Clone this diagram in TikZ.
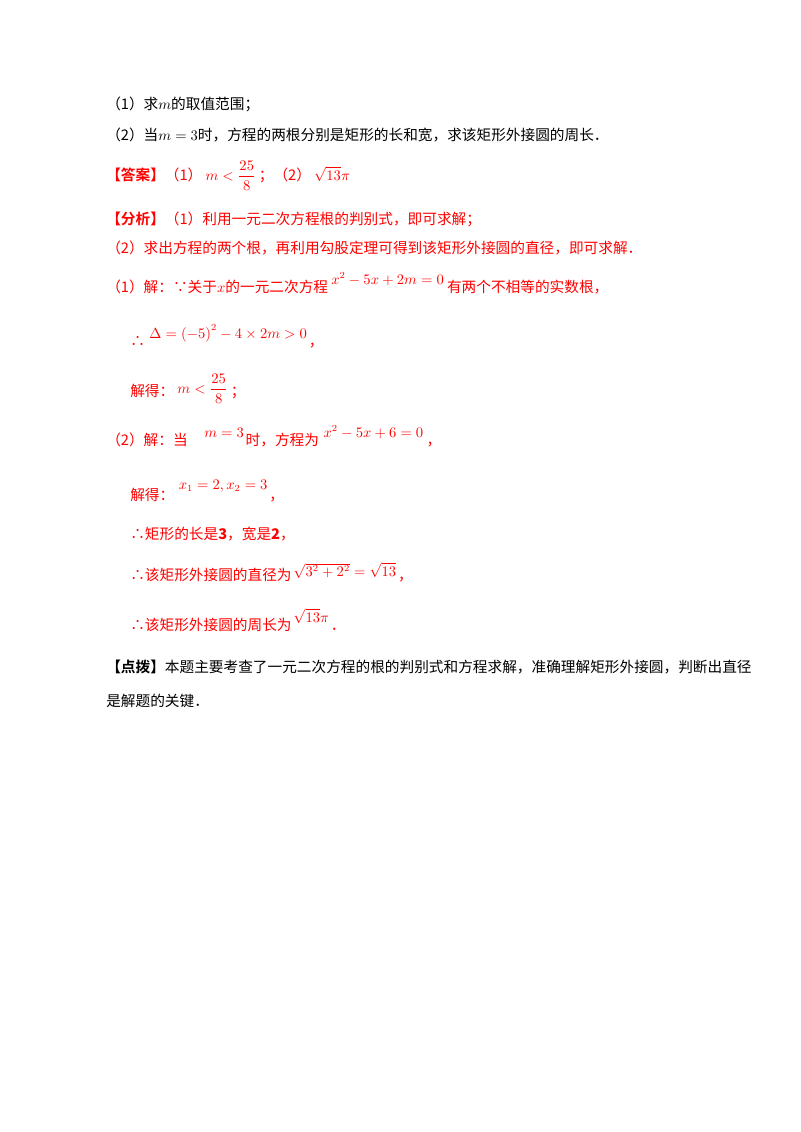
\documentclass[tikz,border=0pt]{standalone}
\usepackage{amsmath}
\usepackage{fontspec}
\newfontfamily\cjk{Noto Sans CJK SC}
\newfontfamily\cjkb{Noto Sans CJK SC Bold}
\definecolor{ansred}{RGB}{255,0,0}
\begin{document}
\begin{tikzpicture}[x=0.75pt,y=-0.75pt,
  t/.style={anchor=base west,inner sep=0pt,font=\cjk\fontsize{11pt}{13pt}\selectfont},
  r/.style={t,text=ansred},
  m/.style={anchor=base west,inner sep=0pt,font=\fontsize{10.5pt}{12pt}\selectfont},
  rm/.style={m,text=ansred}]
\useasboundingbox[fill=white] (0,0) rectangle (800,1132);
\node[t] (l1) at (106,109) {（1）求$m$的取值范围；};
\node[t] (l2) at (106,140) {（2）当$m=3$时，方程的两根分别是矩形的长和宽，求该矩形外接圆的周长．};
\node[r] (l3) at (106,180) {{\cjkb【答案】}（1）};
\node[rm] (l3a) at ([xshift=2pt]l3.base east) {$m<\dfrac{25}{8}$};
\node[r] (l3b) at ([xshift=2pt]l3a.base east) {；（2）};
\node[rm] (l3c) at ([xshift=2pt]l3b.base east) {$\sqrt{13}\pi$};
\node[r] (l4) at (106,224) {{\cjkb【分析】}（1）利用一元二次方程根的判别式，即可求解；};
\node[r] (l5) at (106,253) {（2）求出方程的两个根，再利用勾股定理可得到该矩形外接圆的直径，即可求解．};
\node[r] (l6) at (106,292) {（1）解：∵关于$x$的一元二次方程};
\node[rm] (l6a) at ([xshift=2pt,yshift=6pt]l6.base east) {$x^2-5x+2m=0$};
\node[r] (l6b) at ([xshift=2pt]l6a.base east|-l6.base) {有两个不相等的实数根，};
\node[r] (l7) at (130,346) {∴};
\node[rm] (l7a) at ([xshift=3pt,yshift=6pt]l7.base east) {$\Delta=\left(-5\right)^2-4\times2m>0$};
\node[r] (l7b) at ([xshift=1pt]l7a.base east|-l7.base) {，};
\node[r] (l8) at (130,396) {解得：};
\node[rm] (l8a) at ([xshift=2pt,yshift=2pt]l8.base east) {$m<\dfrac{25}{8}$};
\node[r] (l8b) at ([xshift=2pt]l8a.base east|-l8.base) {；};
\node[r] (l9) at (106,445) {（2）解：当};
\node[rm] (l9a) at ([xshift=12pt,yshift=6pt]l9.base east) {$m=3$};
\node[r] (l9b) at ([xshift=1pt]l9a.base east|-l9.base) {时，方程为};
\node[rm] (l9c) at ([xshift=3pt,yshift=6pt]l9b.base east) {$x^2-5x+6=0$};
\node[r] (l9d) at ([xshift=2pt]l9c.base east|-l9.base) {，};
\node[r] (l10) at (130,500) {解得：};
\node[rm] (l10a) at ([xshift=3pt,yshift=8pt]l10.base east) {$x_1=2,x_2=3$};
\node[r] (l10b) at ([xshift=1pt]l10a.base east|-l10.base) {，};
\node[r] (l11) at (130,539) {∴矩形的长是\textbf{3}，宽是\textbf{2}，};
\node[r] (l12) at (130,580) {∴该矩形外接圆的直径为};
\node[rm] (l12a) at ([xshift=1pt,yshift=3pt]l12.base east) {$\sqrt{3^2+2^2}=\sqrt{13}$};
\node[r] (l12b) at ([xshift=1pt]l12a.base east|-l12.base) {，};
\node[r] (l13) at (130,630) {∴该矩形外接圆的周长为};
\node[rm] (l13a) at ([xshift=1pt,yshift=6pt]l13.base east) {$\sqrt{13}\pi$};
\node[r] (l13b) at ([xshift=1pt]l13a.base east|-l13.base) {．};
\node[t] (l14) at (106,672) {{\cjkb【点拨】}本题主要考查了一元二次方程的根的判别式和方程求解，准确理解矩形外接圆，判断出直径};
\node[t] (l15) at (106,706) {是解题的关键．};
\end{tikzpicture}
\end{document}
